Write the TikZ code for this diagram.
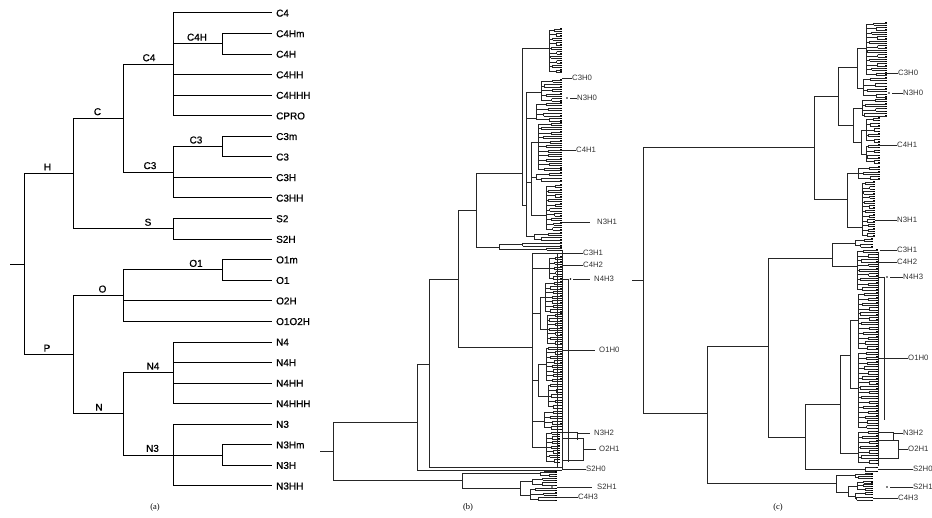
\documentclass[tikz,border=0pt]{standalone}
\usepackage{fontspec}
\setmainfont{Liberation Serif}
\newfontfamily\lsans{Liberation Sans}
\newfontfamily\lsansb[FakeBold=0.7]{Liberation Sans}
\tikzset{
 aline/.style={line width=1.0bp, black},
 dline/.style={line width=0.45bp, black!85},
 mline/.style={line width=0.6bp, black!85},
 dtick/.style={line width=1.0bp, black},
 leaf/.style={anchor=west, inner xsep=4bp, inner ysep=0pt, text height=7.2bp, text depth=0bp, font=\lsansb\fontsize{10}{12}\selectfont},
 ilab/.style={anchor=south, inner sep=0pt, yshift=3bp, text height=7.2bp, text depth=0bp, font=\lsansb\fontsize{10}{12}\selectfont},
 clab/.style={anchor=west, inner sep=0pt, text height=5.6bp, text depth=0bp, font=\lsans\fontsize{7.8}{9}\selectfont, text=black!80},
 captxt/.style={inner sep=0pt, font=\fontsize{8.5}{10}\selectfont},
}
% dendrogram cluster: spine x, top leaf y, bottom leaf y, right x, number of leaves (even)
\newcommand\dclust[5]{%
  \pgfmathsetmacro\dch{(#3-#2)/(#5-1)}%
  \pgfmathtruncatemacro\dcm{#5/2}%
  \pgfmathsetmacro\dct{#2+0.5*\dch}%
  \pgfmathsetmacro\dcb{#2+(2*\dcm-1.5)*\dch}%
  \draw[dline] (#1,\dct) -- (#1,\dcb);
  \foreach \k in {1,...,\dcm}{%
    \pgfmathsetmacro\dya{#2+(2*\k-2)*\dch}%
    \pgfmathsetmacro\dyb{\dya+\dch}%
    \pgfmathsetmacro\dym{\dya+0.5*\dch}%
    \pgfmathsetmacro\dxb{#1+1.2+abs(sin(\k*83.7+#2*29.3))*(#4-#1)*0.5}%
    \draw[dline] (#1,\dym) -- (\dxb,\dym) (\dxb,\dya) -- (\dxb,\dyb) (\dxb,\dya) -- (#4,\dya) (\dxb,\dyb) -- (#4,\dyb);
    \draw[dtick] (#4-1.8,\dya) -- (#4,\dya) (#4-1.8,\dyb) -- (#4,\dyb);
  }%
}
\begin{document}
\begin{tikzpicture}[x=1bp,y=-1bp]
\useasboundingbox (0,0) rectangle (932,518);
%% ================= panel (a) =================
\coordinate (aR0) at (10,264.2);
\coordinate (aR) at (24,264.2);
\coordinate (aH) at (73,173.6);
\coordinate (aP) at (73,354.8);
\coordinate (aC) at (123,118.35);
\coordinate (aS) at (173,228.9);
\coordinate (aC4) at (173,64.4);
\coordinate (aC3) at (173,172.3);
\coordinate (aC4H) at (222,43.85);
\coordinate (aC3s) at (222,146.65);
\coordinate (aO) at (123,295.7);
\coordinate (aN) at (123,413.9);
\coordinate (aO1) at (222,270);
\coordinate (aN4) at (173,372.8);
\coordinate (aN3) at (173,455.05);
\coordinate (aN3H) at (222,455.05);
\node[leaf] (lC4) at (272,13) {C4};
\node[leaf] (lC4Hm) at (272,33.6) {C4Hm};
\node[leaf] (lC4H) at (272,54.1) {C4H};
\node[leaf] (lC4HH) at (272,74.7) {C4HH};
\node[leaf] (lC4HHH) at (272,95.2) {C4HHH};
\node[leaf] (lCPRO) at (272,115.8) {CPRO};
\node[leaf] (lC3m) at (272,136.4) {C3m};
\node[leaf] (lC3) at (272,156.9) {C3};
\node[leaf] (lC3H) at (272,177.5) {C3H};
\node[leaf] (lC3HH) at (272,198.0) {C3HH};
\node[leaf] (lS2) at (272,218.6) {S2};
\node[leaf] (lS2H) at (272,239.2) {S2H};
\node[leaf] (lO1m) at (272,259.7) {O1m};
\node[leaf] (lO1) at (272,280.3) {O1};
\node[leaf] (lO2H) at (272,300.8) {O2H};
\node[leaf] (lO1O2H) at (272,321.4) {O1O2H};
\node[leaf] (lN4) at (272,342.0) {N4};
\node[leaf] (lN4H) at (272,362.5) {N4H};
\node[leaf] (lN4HH) at (272,383.1) {N4HH};
\node[leaf] (lN4HHH) at (272,403.6) {N4HHH};
\node[leaf] (lN3) at (272,424.2) {N3};
\node[leaf] (lN3Hm) at (272,444.8) {N3Hm};
\node[leaf] (lN3H) at (272,465.3) {N3H};
\node[leaf] (lN3HH) at (272,485.9) {N3HH};
\draw[aline] (aR0) -- (aR);
\draw[aline] (aR) |- (aH) (aR) |- (aP);
\draw[aline] (aH) |- (aC) (aH) |- (aS);
\draw[aline] (aC) |- (aC4) (aC) |- (aC3);
\draw[aline] (aC4) |- (lC4.west) (aC4) |- (aC4H) (aC4) |- (lC4HH.west) (aC4) |- (lC4HHH.west) (aC4) |- (lCPRO.west);
\draw[aline] (aC4H) |- (lC4Hm.west) (aC4H) |- (lC4H.west);
\draw[aline] (aC3) |- (aC3s) (aC3) |- (lC3H.west) (aC3) |- (lC3HH.west);
\draw[aline] (aC3s) |- (lC3m.west) (aC3s) |- (lC3.west);
\draw[aline] (aS) |- (lS2.west) (aS) |- (lS2H.west);
\draw[aline] (aP) |- (aO) (aP) |- (aN);
\draw[aline] (aO) |- (aO1) (aO) |- (lO2H.west) (aO) |- (lO1O2H.west);
\draw[aline] (aO1) |- (lO1m.west) (aO1) |- (lO1.west);
\draw[aline] (aN) |- (aN4) (aN) |- (aN3);
\draw[aline] (aN4) |- (lN4.west) (aN4) |- (lN4H.west) (aN4) |- (lN4HH.west) (aN4) |- (lN4HHH.west);
\draw[aline] (aN3) |- (lN3.west) (aN3) |- (aN3H) (aN3) |- (lN3HH.west);
\draw[aline] (aN3H) |- (lN3Hm.west) (aN3H) |- (lN3H.west);
\node[ilab] (tH) at (47.5,173.6) {H};
\node[ilab] (tC) at (97.5,118.35) {C};
\node[ilab] (tC4) at (149,64.4) {C4};
\node[ilab] (tC4H) at (197,43.85) {C4H};
\node[ilab] (tC3s) at (196,146.65) {C3};
\node[ilab] (tC3) at (150,172.3) {C3};
\node[ilab] (tS) at (148,228.9) {S};
\node[ilab] (tP) at (47,354.8) {P};
\node[ilab] (tO) at (102.5,295.7) {O};
\node[ilab] (tO1) at (196,270) {O1};
\node[ilab] (tN) at (99,413.9) {N};
\node[ilab] (tN4) at (153,372.8) {N4};
\node[ilab] (tN3) at (152.5,455.05) {N3};
\node[captxt] (capa) at (155,507) {(a)};
%% ================= panel (b) =================
\coordinate (b0) at (320,451);
\coordinate (bR) at (333,451);
\coordinate (bA) at (417,422);
\coordinate (bZ) at (462,480);
\coordinate (bB) at (429,364);
\coordinate (bS2a) at (562,470);
\coordinate (bS2b) at (562,467);
\coordinate (bD) at (458,279);
\coordinate (bE) at (476,210);
\coordinate (bF) at (532,347);
\coordinate (bG) at (522,173);
\coordinate (bE2) at (499,247);
\coordinate (bS1) at (549,48);
\coordinate (bG2) at (526,205);
\coordinate (bS2) at (541,92);
\coordinate (bS3) at (536,118);
\coordinate (bH) at (531,182);
\coordinate (bL) at (534,236.5);
\coordinate (bK1) at (538,142);
\coordinate (bK2) at (536,177);
\coordinate (bN1) at (546,215);
\coordinate (bE2a) at (520,244.5);
\coordinate (bE2b) at (540,249.25);
\coordinate (bC31) at (562,253);
\coordinate (bT1) at (549,268);
\coordinate (bT2) at (540,313);
\coordinate (bT2a) at (545,297);
\coordinate (bT2b) at (547,329);
\coordinate (bT3) at (538,380);
\coordinate (bT3a) at (546,364);
\coordinate (bT3b) at (548,396);
\coordinate (bT4) at (544,421);
\coordinate (bT5) at (546,447);
\coordinate (bZ1) at (540,473.5);
\coordinate (bZ2) at (520,488);
\coordinate (bZ2a) at (532,481.5);
\coordinate (bZ2b) at (530,495);
\draw[mline] (b0) -- (bR);
\draw[mline] (bR) |- (bA) (bR) |- (bZ);
\draw[mline] (bA) |- (bB) (bA) |- (bS2a);
\draw[mline] (bB) |- (bD) (bB) |- (bS2b);
\draw[mline] (bD) |- (bE) (bD) |- (bF);
\draw[mline] (bE) |- (bG) (bE) |- (bE2);
\draw[mline] (bG) |- (bS1) (bG) |- (bG2);
\draw[mline] (bG2) |- (bS2) (bG2) |- (bS3) (bG2) |- (bH) (bG2) |- (bL);
\draw[mline] (bH) |- (bK1) (bH) |- (bK2) (bH) |- (bN1);
\draw[mline] (bE2) |- (bE2a) (bE2) |- (bE2b);
\draw[mline] (bF) |- (bC31) (bF) |- (bT1) (bF) |- (bT2) (bF) |- (bT3) (bF) |- (bT4) (bF) |- (bT5);
\draw[mline] (bT2) |- (bT2a) (bT2) |- (bT2b);
\draw[mline] (bT3) |- (bT3a) (bT3) |- (bT3b);
\draw[mline] (bZ) |- (bZ1) (bZ) |- (bZ2);
\draw[mline] (bZ2) |- (bZ2a) (bZ2) |- (bZ2b);
\dclust{549}{29}{72}{562}{20}
\dclust{541}{80}{101}{562}{10}
\dclust{536}{103}{121}{562}{8}
\dclust{538}{123}{170}{562}{22}
\dclust{536}{173}{181}{562}{4}
\dclust{546}{185}{230}{562}{20}
\dclust{534}{233}{240}{562}{4}
\dclust{520}{243}{246}{562}{2}
\dclust{540}{248}{250.5}{562}{2}
\dclust{549}{257}{279}{562}{10}
\dclust{545}{282}{312}{562}{14}
\dclust{547}{314}{344}{562}{14}
\dclust{546}{347}{381}{562}{16}
\dclust{548}{384}{408}{562}{10}
\dclust{544}{411}{429}{562}{8}
\dclust{546}{432}{462}{560}{14}
\dclust{540}{471}{476}{557}{4}
\dclust{532}{478}{485}{557}{4}
\dclust{530}{488}{500}{557}{6}
\draw[dline] (557,253) -- (557,468) (562,250) -- (562,470) (568,279) -- (568,462);
% leaders (b)
\coordinate (bqC3H0) at (562,78);
\coordinate (bqN3H0) at (570,98);
\node[clab] (bC3H0) at (572,78) {C3H0};
\node[clab] (bN3H0) at (577,98) {N3H0};
\node[clab] (bC4H1) at (576,150) {C4H1};
\node[clab] (bN3H1) at (597,222) {N3H1};
\node[clab] (bC3H1) at (583,253) {C3H1};
\node[clab] (bC4H2) at (583,265) {C4H2};
\node[clab] (bN4H3) at (594,279) {N4H3};
\node[clab] (bO1H0) at (599,350) {O1H0};
\node[clab] (bN3H2) at (594,433) {N3H2};
\node[clab] (bO2H1) at (599,449) {O2H1};
\node[clab] (bS2H0) at (586,469) {S2H0};
\node[clab] (bS2H1) at (597,487) {S2H1};
\node[clab] (bC4H3) at (578,497) {C4H3};
\draw[mline] (bqC3H0) -- (bC3H0.west);
\fill (567,98) circle (0.9);
\draw[mline] (bqN3H0) -- (bN3H0.west);
\draw[mline] (562,150) -- (bC4H1.west);
\draw[mline] (562,222) -- (590,222);
\draw[mline] (562,253) -- (bC3H1.west);
\draw[mline] (562,265) -- (bC4H2.west);
\draw[mline] (557,279) -- (568,279) (573,279) -- (590,279);
\fill (570.5,279) circle (0.9);
\draw[mline] (562,350) -- (595,350);
\draw[mline] (560,432) -- (577,432) -- (577,440) (577,433) -- (590,433);
\draw[mline] (562,438) -- (583,438) -- (583,460) -- (562,460) (583,449) -- (596,449);
\draw[mline] (562,469) -- (bS2H0.west);
\fill (552,487) circle (0.9);
\draw[mline] (557,487) -- (592,487);
\draw[mline] (557,497) -- (bC4H3.west);
\node[captxt] (capb) at (468,507) {(b)};
%% ================= panel (c) =================
\coordinate (c0) at (632,280);
\coordinate (cR) at (643,280);
\coordinate (cT) at (814,147);
\coordinate (cB) at (707,413);
\coordinate (cT1) at (838,96);
\coordinate (cT2) at (847,199);
\coordinate (cT11) at (857,67);
\coordinate (cT12) at (853,125);
\coordinate (cTa) at (866,48);
\coordinate (cTb) at (863,88);
\coordinate (cTc) at (862,108);
\coordinate (cK) at (861,142);
\coordinate (cKa) at (866,130);
\coordinate (cKb) at (866,154);
\coordinate (cT2a) at (858,173);
\coordinate (cT2b) at (862,227);
\coordinate (cB1) at (768,346);
\coordinate (cB2) at (836,483);
\coordinate (cB11) at (832,258);
\coordinate (cB11a) at (855,243);
\coordinate (cB11b) at (857,266);
\coordinate (cB12) at (805,437);
\coordinate (cB121) at (840,404);
\coordinate (cB1211) at (850,355);
\coordinate (cOa) at (858,320);
\coordinate (cOb) at (858,388);
\coordinate (cOc) at (858,453);
\coordinate (cS) at (850,469);
\coordinate (cB2a) at (855,475.5);
\coordinate (cB22) at (848,492);
\coordinate (cB22a) at (857,486);
\coordinate (cB22b) at (855,496);
\draw[mline] (c0) -- (cR);
\draw[mline] (cR) |- (cT) (cR) |- (cB);
\draw[mline] (cT) |- (cT1) (cT) |- (cT2);
\draw[mline] (cT1) |- (cT11) (cT1) |- (cT12);
\draw[mline] (cT11) |- (cTa) (cT11) |- (cTb);
\draw[mline] (cT12) |- (cTc) (cT12) |- (cK);
\draw[mline] (cK) |- (cKa) (cK) |- (cKb);
\draw[mline] (cT2) |- (cT2a) (cT2) |- (cT2b);
\draw[mline] (cB) |- (cB1) (cB) |- (cB2);
\draw[mline] (cB1) |- (cB11) (cB1) |- (cB12);
\draw[mline] (cB11) |- (cB11a) (cB11) |- (cB11b);
\draw[mline] (cB12) |- (cB121) (cB12) |- (cS);
\draw[mline] (cB121) |- (cB1211) (cB121) |- (cOc);
\draw[mline] (cB1211) |- (cOa) (cB1211) |- (cOb);
\draw[mline] (cB2) |- (cB2a) (cB2) |- (cB22);
\draw[mline] (cB22) |- (cB22a) (cB22) |- (cB22b);
\dclust{866}{23}{75}{887}{24}
\dclust{863}{78}{97}{887}{8}
\dclust{862}{99}{116}{887}{8}
\dclust{866}{118}{142}{880}{10}
\dclust{866}{145}{163}{880}{8}
\dclust{858}{167}{179}{880}{6}
\dclust{862}{182}{236}{875}{24}
\dclust{855}{239}{247}{873}{4}
\dclust{857}{250}{290}{878}{18}
\dclust{858}{293}{349}{878}{24}
\dclust{858}{352}{428}{878}{32}
\dclust{858}{431}{463}{878}{14}
\dclust{850}{467}{471}{878}{2}
\dclust{855}{473}{478}{873}{4}
\dclust{857}{481}{490}{873}{6}
\dclust{855}{492}{500}{873}{4}
\draw[dline] (878,252) -- (878,466) (884,277) -- (884,420);
% leaders (c)
\node[clab] (cC3H0) at (898,73) {C3H0};
\node[clab] (cN3H0) at (903,93) {N3H0};
\node[clab] (cC4H1) at (897,145) {C4H1};
\node[clab] (cN3H1) at (897,220) {N3H1};
\node[clab] (cC3H1) at (897,250) {C3H1};
\node[clab] (cC4H2) at (897,262) {C4H2};
\node[clab] (cN4H3) at (903,277) {N4H3};
\node[clab] (cO1H0) at (908,358) {O1H0};
\node[clab] (cN3H2) at (903,433) {N3H2};
\node[clab] (cO2H1) at (908,449) {O2H1};
\node[clab] (cS2H0) at (913,469) {S2H0};
\node[clab] (cS2H1) at (913,487) {S2H1};
\node[clab] (cC4H3) at (898,498) {C4H3};
\draw[mline] (887,73) -- (cC3H0.west);
\fill (889,93) circle (0.9);
\draw[mline] (892,93) -- (cN3H0.west);
\draw[mline] (880,145) -- (cC4H1.west);
\draw[mline] (875,220) -- (cN3H1.west);
\draw[mline] (880,250) -- (cC3H1.west);
\draw[mline] (878,262) -- (cC4H2.west);
\draw[mline] (878,277) -- (884,277) (890,277) -- (cN4H3.west);
\fill (887,277) circle (0.9);
\draw[mline] (878,358) -- (cO1H0.west);
\draw[mline] (878,432) -- (893,432) -- (893,440) (893,433) -- (cN3H2.west);
\draw[mline] (878,440) -- (898,440) -- (898,458) -- (878,458) (898,449) -- (cO2H1.west);
\draw[mline] (878,469) -- (cS2H0.west);
\fill (887,487) circle (0.9);
\draw[mline] (890,487) -- (cS2H1.west);
\draw[mline] (873,498) -- (cC4H3.west);
\node[captxt] (capc) at (778,507) {(c)};
\end{tikzpicture}
\end{document}
